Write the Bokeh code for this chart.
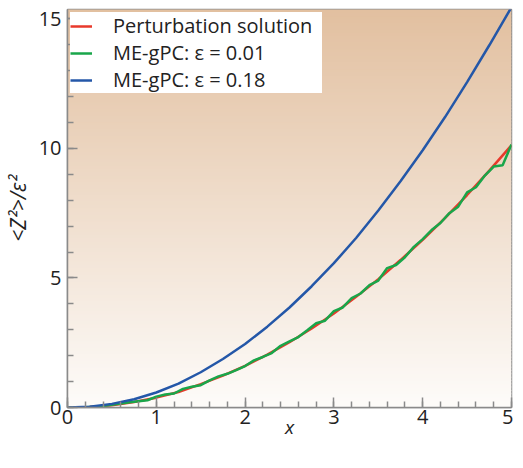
from bokeh.plotting import figure
from bokeh.models import Range1d, FixedTicker, Legend, LegendItem
from bokeh.embed import file_html
from bokeh.resources import INLINE

# ---- data ----
x_coarse = [0, 0.25, 0.5, 0.75, 1.0, 1.25, 1.5, 1.75, 2.0, 2.25, 2.5, 2.75, 3.0,
            3.25, 3.5, 3.75, 4.0, 4.25, 4.5, 4.75, 5.0]
perturbation = [0, 0.02, 0.09, 0.21, 0.38, 0.6, 0.9, 1.23, 1.61, 2.04, 2.52, 3.05,
                3.63, 4.27, 4.95, 5.69, 6.47, 7.31, 8.2, 9.14, 10.12]
megpc_018 = [0, 0.03, 0.14, 0.32, 0.58, 0.92, 1.36, 1.87, 2.45, 3.12, 3.86, 4.68,
             5.57, 6.54, 7.6, 8.73, 9.93, 11.2, 12.56, 13.98, 15.45]
x_fine = [0, 0.1, 0.2, 0.3, 0.4, 0.5, 0.6, 0.7, 0.8, 0.9, 1.0, 1.1, 1.2, 1.3, 1.4,
          1.5, 1.6, 1.7, 1.8, 1.9, 2.0, 2.1, 2.2, 2.3, 2.4, 2.5, 2.6, 2.7, 2.8, 2.9,
          3.0, 3.1, 3.2, 3.3, 3.4, 3.5, 3.6, 3.7, 3.8, 3.9, 4.0, 4.1, 4.2, 4.3, 4.4,
          4.5, 4.6, 4.7, 4.8, 4.9, 5.0]
megpc_001 = [0, 0, 0.01, 0.03, 0.06, 0.11, 0.15, 0.2, 0.24, 0.28, 0.42, 0.5, 0.54,
             0.72, 0.8, 0.86, 1.05, 1.2, 1.3, 1.44, 1.6, 1.82, 1.95, 2.1, 2.38, 2.55,
             2.72, 2.98, 3.25, 3.35, 3.72, 3.86, 4.22, 4.4, 4.72, 4.9, 5.38, 5.5, 5.8,
             6.2, 6.5, 6.85, 7.12, 7.5, 7.75, 8.3, 8.5, 8.95, 9.3, 9.35, 10.15]
x_ticks = [0, 1, 2, 3, 4, 5]
y_ticks = [0, 5, 10, 15]
labels = ["Perturbation solution", "ME-gPC: ε = 0.01", "ME-gPC: ε = 0.18"]
x_label = "x"
y_label = "<Z²>/ε²"

X_MAX = 5
Y_MAX = 15.36
FONT = "Open Sans"

p = figure(width=513, height=442, output_backend="svg", toolbar_location=None,
           x_range=Range1d(0, X_MAX), y_range=Range1d(0, Y_MAX),
           min_border_left=61, min_border_right=2, min_border_top=9,
           min_border_bottom=0,
           background_fill_color="white", border_fill_color="white")
p.grid.visible = False

# gradient background (tan at top -> near white at bottom)
top_rgb = (226, 192, 160)
bot_rgb = (253, 251, 249)
n = 120
bottoms, tops, cols = [], [], []
for i in range(n):
    f = i / (n - 1)
    r = [round(bot_rgb[k] + (top_rgb[k] - bot_rgb[k]) * f) for k in range(3)]
    b = Y_MAX * i / n
    bottoms.append(b)
    tops.append(b + Y_MAX / n * 1.3)
    cols.append("#%02x%02x%02x" % tuple(r))
p.quad(left=0, right=X_MAX, bottom=bottoms, top=tops, fill_color=cols, line_color=None)

r_red = p.line(x_coarse, perturbation, line_color="#e8392b", line_width=2.5)
r_green = p.line(x_fine, megpc_001, line_color="#19a64a", line_width=2.5)
r_blue = p.line(x_coarse, megpc_018, line_color="#2457a8", line_width=2.5)

legend = Legend(items=[LegendItem(label=labels[0], renderers=[r_red]),
                       LegendItem(label=labels[1], renderers=[r_green]),
                       LegendItem(label=labels[2], renderers=[r_blue])],
                location="top_left")
legend.margin = 3
legend.padding = 4
legend.spacing = -4
legend.glyph_width = 22
legend.glyph_height = 20
legend.label_height = 20
legend.label_standoff = 21
legend.label_width = 209
legend.label_text_font = FONT
legend.label_text_font_size = "20px"
legend.label_text_color = "#222222"
legend.border_line_color = None
legend.background_fill_color = "white"
legend.background_fill_alpha = 1.0
p.add_layout(legend)

axis_col = "#8a8a8a"
p.xaxis.ticker = FixedTicker(ticks=x_ticks, minor_ticks=[i * 0.2 for i in range(26)])
p.yaxis.ticker = FixedTicker(ticks=y_ticks, minor_ticks=list(range(16)))
for ax in (p.xaxis, p.yaxis):
    ax.major_tick_in = 10
    ax.major_tick_out = 0
    ax.minor_tick_in = 6
    ax.minor_tick_out = 0
    ax.axis_line_color = axis_col
    ax.axis_line_width = 1.5
    ax.major_tick_line_color = axis_col
    ax.major_tick_line_width = 1.5
    ax.minor_tick_line_color = axis_col
    ax.minor_tick_line_width = 1.5
    ax.major_label_text_font = FONT
    ax.major_label_text_font_size = "20px"
    ax.major_label_text_color = "#222222"
    ax.axis_label_text_font = FONT
    ax.axis_label_text_font_style = "italic"
    ax.axis_label_text_color = "#222222"

p.xaxis.axis_label = x_label
p.xaxis.axis_label_text_font_size = "19px"
p.xaxis.major_label_standoff = 2
p.xaxis.axis_label_standoff = -13
p.yaxis.axis_label = y_label
p.yaxis.axis_label_text_font_size = "21px"
p.yaxis.major_label_standoff = 6
p.yaxis.axis_label_standoff = 4

p.outline_line_color = axis_col
p.outline_line_width = 1.5
p.outline_line_alpha = 1.0

open("out.html", "w").write(file_html(p, INLINE))
